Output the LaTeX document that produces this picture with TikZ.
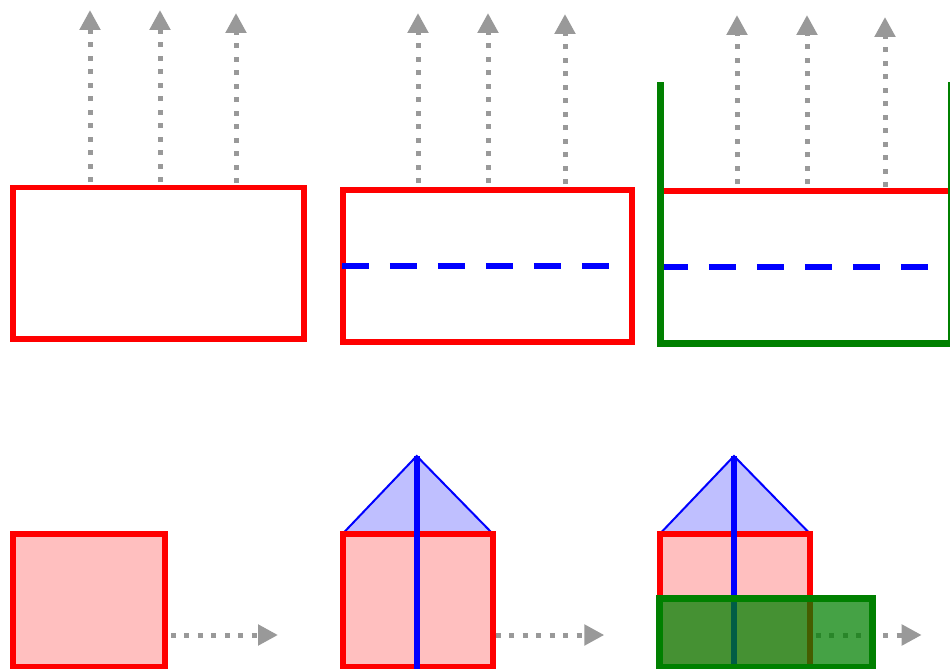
\documentclass[tikz,border=0pt]{standalone}
\usetikzlibrary{arrows.meta}
\begin{document}
\begin{tikzpicture}[x=0.02cm,y=-0.02cm,
    ray/.style={black!40,line width=0.1cm,dash pattern=on 0.1cm off 0.17cm,-{Triangle[length=0.4cm,width=0.4cm]}},
    wall/.style={red,line width=0.12cm},
    wave/.style={blue,line width=0.12cm,dash pattern=on 0.54cm off 0.42cm},
    tank/.style={green!50!black,line width=0.13cm},
    roof/.style={blue,fill=blue!25,line width=0.04cm},
    post/.style={blue,line width=0.12cm}]
    \clip (0,0) rectangle (950,669);
    \fill[white] (0,0) rectangle (950,669);
    % top row
    \draw[ray] (90,182) -- (90,10);
    \draw[ray] (160,182) -- (160,10);
    \draw[ray] (236,183) -- (236,13);
    \draw[wall] (13,187.5) rectangle (304,339);
    \draw[ray] (418,183) -- (418,13);
    \draw[ray] (488,183) -- (488,13);
    \draw[ray] (565,184) -- (565,14);
    \draw[wall] (342.5,190) rectangle (632,341.5);
    \draw[wave] (342,265.7) -- (609,265.7);
    \draw[ray] (737,184) -- (737,15);
    \draw[ray] (807,184) -- (807,15);
    \draw[ray] (885,187) -- (885,17);
    \draw[wall] (660,191) -- (952,191);
    \draw[wave] (661,266.7) -- (928,266.7);
    \draw[tank] (951,82) -- (951,343.5) -- (660.5,343.5) -- (660.5,82);
    % bottom row
    \draw[wall,fill=red!25] (13.3,533.7) rectangle (165,666.5);
    \draw[ray] (171,635) -- (278,635);
    \draw[roof] (342.7,533.7) -- (416.7,456) -- (492.7,533.7) -- cycle;
    \draw[wall,fill=red!25] (342.7,533.7) rectangle (492.7,666.5);
    \draw[post] (416.7,456) -- (416.7,680);
    \draw[ray] (495.7,635) -- (604.3,635);
    \draw[roof] (660,533.7) -- (734,456) -- (810,533.7) -- cycle;
    \draw[wall,fill=red!25] (660,533.7) rectangle (810,666.5);
    \draw[post] (734,456) -- (734,680);
    \draw[ray] (815.7,635) -- (921.7,635);
    \draw[tank,fill=green!50!black,fill opacity=0.73] (659.5,598.5) rectangle (872.5,667);
\end{tikzpicture}
\end{document}
